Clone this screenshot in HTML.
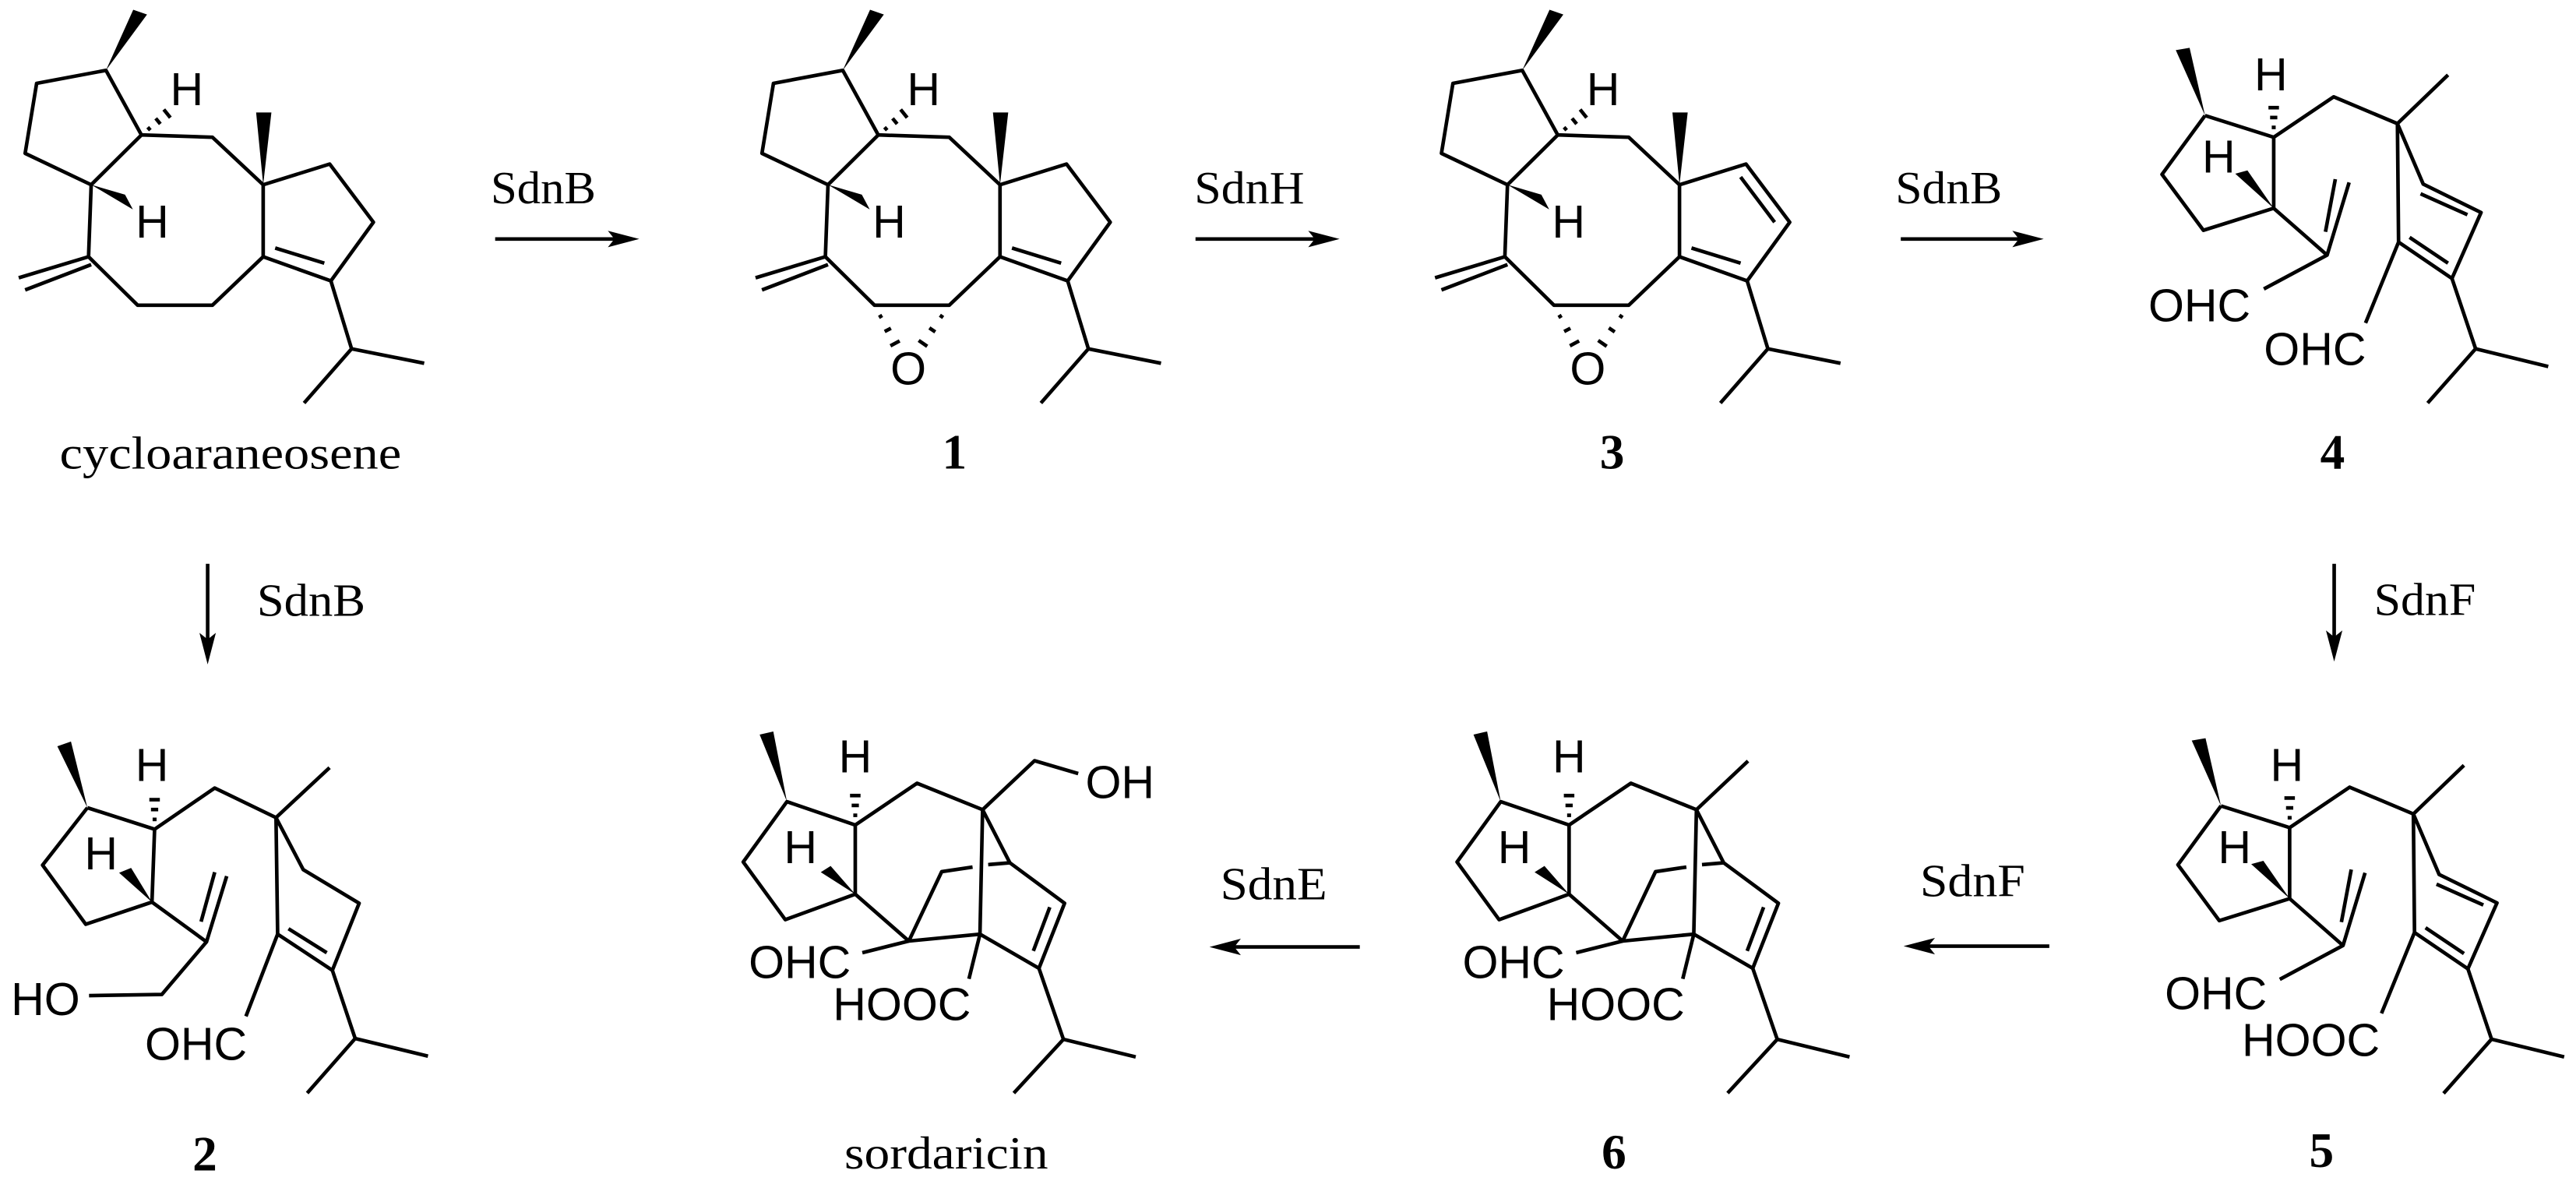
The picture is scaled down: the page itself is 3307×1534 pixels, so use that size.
<!DOCTYPE html>
<html><head><meta charset="utf-8"><style>
html,body{margin:0;padding:0;background:#fff;}
svg{display:block;}
.b{stroke:#000;stroke-width:2.2;fill:none;stroke-linejoin:round;}
.b polygon{fill:#000;stroke:none;}
.a{font-family:"Liberation Sans",sans-serif;font-size:28px;fill:#000;}
.s{font-family:"Liberation Serif",serif;font-size:28px;fill:#000;}
.n{font-family:"Liberation Serif",serif;font-size:30px;font-weight:bold;fill:#000;}
</style></head><body>
<svg width="3307" height="1534" viewBox="0 0 1568 727" preserveAspectRatio="none" xmlns="http://www.w3.org/2000/svg">
<rect width="1568" height="727" fill="#fff"/>

<g class="b" transform="translate(-448.5,0)">
 <polygon points="513,42.8 529.6,5.9 538,8.8"/>
 <polygon points="608.7,112.4 604.4,68.4 613.7,68.4"/>
 <polygon points="504,112.4 524.6,118.4 529.4,127.4"/>
 <polyline points="534.6,82.1 513,42.8 470.8,50.7 463.8,93.3 504,112.4 534.6,82.1 577.8,83.5 608.7,112.4 608.7,156.2 577.8,185.7 532.3,185.7 502.4,156.2 504,112.4"/>
 <polyline points="608.7,112.4 649.2,99.8 675.8,135.2 649.9,170.9 608.7,156.2"/>
 <line x1="616" y1="150.9" x2="645.9" y2="160.1"/>
 <line x1="502.4" y1="156.2" x2="459.9" y2="169"/>
 <line x1="504" y1="161" x2="463.8" y2="176.4"/>
 <polyline points="649.9,170.9 662.5,212.2 633.6,245.2"/>
 <line x1="662.5" y1="212.2" x2="706.7" y2="221"/>
 <line x1="538.4" y1="77.4" x2="540" y2="79.2"/>
 <line x1="543.3" y1="72" x2="546.1" y2="75.4"/>
 <line x1="548.2" y1="66.6" x2="552.2" y2="71.6"/>
</g>
<g transform="translate(-448.5,0)">
 <text class="a" x="562.2" y="64" text-anchor="middle">H</text>
 <text class="a" x="541.2" y="144.6" text-anchor="middle">H</text>
</g>

<g class="b">
 <polygon points="513,42.8 529.6,5.9 538,8.8"/>
 <polygon points="608.7,112.4 604.4,68.4 613.7,68.4"/>
 <polygon points="504,112.4 524.6,118.4 529.4,127.4"/>
 <polyline points="534.6,82.1 513,42.8 470.8,50.7 463.8,93.3 504,112.4 534.6,82.1 577.8,83.5 608.7,112.4 608.7,156.2 577.8,185.7 532.3,185.7 502.4,156.2 504,112.4"/>
 <polyline points="608.7,112.4 649.2,99.8 675.8,135.2 649.9,170.9 608.7,156.2"/>
 <line x1="616" y1="150.9" x2="645.9" y2="160.1"/>
 <line x1="502.4" y1="156.2" x2="459.9" y2="169"/>
 <line x1="504" y1="161" x2="463.8" y2="176.4"/>
 <polyline points="649.9,170.9 662.5,212.2 633.6,245.2"/>
 <line x1="662.5" y1="212.2" x2="706.7" y2="221"/>
 <line x1="538.4" y1="77.4" x2="540" y2="79.2"/>
 <line x1="543.3" y1="72" x2="546.1" y2="75.4"/>
 <line x1="548.2" y1="66.6" x2="552.2" y2="71.6"/>
 <line x1="535" y1="193.1" x2="537" y2="191.9"/>
 <line x1="538.5" y1="201.7" x2="542.3" y2="199.7"/>
 <line x1="542" y1="210.4" x2="547.6" y2="207.4"/>
 <line x1="572.1" y1="191.8" x2="574.1" y2="193.2"/>
 <line x1="565.7" y1="199.5" x2="569.3" y2="201.9"/>
 <line x1="559.2" y1="207.1" x2="564.4" y2="210.7"/>
</g>
<text class="a" x="562.2" y="64" text-anchor="middle">H</text>
<text class="a" x="541.2" y="144.6" text-anchor="middle">H</text>
<text class="a" x="552.9" y="234" text-anchor="middle">O</text>

<g class="b" transform="translate(413.6,0)">
 <polygon points="513,42.8 529.6,5.9 538,8.8"/>
 <polygon points="608.7,112.4 604.4,68.4 613.7,68.4"/>
 <polygon points="504,112.4 524.6,118.4 529.4,127.4"/>
 <polyline points="534.6,82.1 513,42.8 470.8,50.7 463.8,93.3 504,112.4 534.6,82.1 577.8,83.5 608.7,112.4 608.7,156.2 577.8,185.7 532.3,185.7 502.4,156.2 504,112.4"/>
 <polyline points="608.7,112.4 649.2,99.8 675.8,135.2 649.9,170.9 608.7,156.2"/>
 <line x1="616" y1="150.9" x2="645.9" y2="160.1"/>
 <line x1="645.9" y1="107.7" x2="666.6" y2="135.2"/>
 <line x1="502.4" y1="156.2" x2="459.9" y2="169"/>
 <line x1="504" y1="161" x2="463.8" y2="176.4"/>
 <polyline points="649.9,170.9 662.5,212.2 633.6,245.2"/>
 <line x1="662.5" y1="212.2" x2="706.7" y2="221"/>
 <line x1="538.4" y1="77.4" x2="540" y2="79.2"/>
 <line x1="543.3" y1="72" x2="546.1" y2="75.4"/>
 <line x1="548.2" y1="66.6" x2="552.2" y2="71.6"/>
 <line x1="535" y1="193.1" x2="537" y2="191.9"/>
 <line x1="538.5" y1="201.7" x2="542.3" y2="199.7"/>
 <line x1="542" y1="210.4" x2="547.6" y2="207.4"/>
 <line x1="572.1" y1="191.8" x2="574.1" y2="193.2"/>
 <line x1="565.7" y1="199.5" x2="569.3" y2="201.9"/>
 <line x1="559.2" y1="207.1" x2="564.4" y2="210.7"/>
</g>
<g transform="translate(413.6,0)">
 <text class="a" x="562.2" y="64" text-anchor="middle">H</text>
 <text class="a" x="541.2" y="144.6" text-anchor="middle">H</text>
 <text class="a" x="552.9" y="234" text-anchor="middle">O</text>
</g>

<g class="b">
 <polygon points="1342.2,70.3 1324.4,30.5 1332.8,29.1"/>
 <polygon points="1384,126.7 1360.6,105.7 1368,103.7"/>
 <polyline points="1342.2,70.3 1316,106.1 1341.2,140.1 1384,126.7 1384,83.5 1342.2,70.3"/>
 <polyline points="1384,83.5 1420.5,58.9 1459.3,75.2 1490.1,45.6"/>
 <polyline points="1384,126.7 1416.5,155.2 1429.9,111"/>
 <line x1="1421.5" y1="109" x2="1415.5" y2="141"/>
 <line x1="1416.5" y1="155.2" x2="1378" y2="175.8"/>
 <polyline points="1460,147.3 1459.3,75.2 1475,112 1510.2,129.3 1492.5,169.4 1460,147.3 1439.9,196.5"/>
 <line x1="1473.4" y1="117.9" x2="1501.9" y2="130.6"/>
 <line x1="1466.7" y1="144.4" x2="1490.1" y2="160.1"/>
 <polyline points="1492.5,169.4 1506.9,212.2 1477.7,245.2"/>
 <line x1="1506.9" y1="212.2" x2="1551.1" y2="223"/>
 <line x1="1382.8" y1="77.5" x2="1385.2" y2="77.5"/>
 <line x1="1381.8" y1="71.5" x2="1386.2" y2="71.5"/>
 <line x1="1380.8" y1="65.5" x2="1387.2" y2="65.5"/>
</g>
<text class="a" x="1382.3" y="55" text-anchor="middle">H</text>
<text class="a" x="1350.5" y="105" text-anchor="middle">H</text>
<text class="a" x="1307.7" y="195.5">OHC</text>
<text class="a" x="1378" y="222">OHC</text>

<g class="b" transform="translate(9.7,420)">
 <polygon points="1342.2,70.3 1324.4,30.5 1332.8,29.1"/>
 <polygon points="1384,126.7 1360.6,105.7 1368,103.7"/>
 <polyline points="1342.2,70.3 1316,106.1 1341.2,140.1 1384,126.7 1384,83.5 1342.2,70.3"/>
 <polyline points="1384,83.5 1420.5,58.9 1459.3,75.2 1490.1,45.6"/>
 <polyline points="1384,126.7 1416.5,155.2 1429.9,111"/>
 <line x1="1421.5" y1="109" x2="1415.5" y2="141"/>
 <line x1="1416.5" y1="155.2" x2="1378" y2="175.8"/>
 <polyline points="1460,147.3 1459.3,75.2 1475,112 1510.2,129.3 1492.5,169.4 1460,147.3 1439.9,196.5"/>
 <line x1="1473.4" y1="117.9" x2="1501.9" y2="130.6"/>
 <line x1="1466.7" y1="144.4" x2="1490.1" y2="160.1"/>
 <polyline points="1492.5,169.4 1506.9,212.2 1477.7,245.2"/>
 <line x1="1506.9" y1="212.2" x2="1551.1" y2="223"/>
 <line x1="1382.8" y1="77.5" x2="1385.2" y2="77.5"/>
 <line x1="1381.8" y1="71.5" x2="1386.2" y2="71.5"/>
 <line x1="1380.8" y1="65.5" x2="1387.2" y2="65.5"/>
</g>
<text class="a" x="1392" y="475" text-anchor="middle">H</text>
<text class="a" x="1360.2" y="525" text-anchor="middle">H</text>
<text class="a" x="1317.7" y="614">OHC</text>
<text class="a" x="1364.6" y="642.5">HOOC</text>

<g class="b">
 <polygon points="53.2,491.4 34.9,454 43.2,451.1"/>
 <polygon points="92.5,548.8 72.5,531 79.8,528"/>
 <polyline points="53.2,491.4 25.9,526.3 52.2,562.3 92.5,548.8 94.1,504.5 53.2,491.4"/>
 <polyline points="94.1,504.5 130.7,479.4 168,497.4 200.6,467"/>
 <polyline points="168,497.4 184.6,529.1 218.6,549.5 202.3,590.3 169,568.3 168,497.4"/>
 <line x1="175.6" y1="565" x2="198.9" y2="579.6"/>
 <line x1="169" y1="568.3" x2="149.7" y2="618.3"/>
 <polyline points="202.3,590.3 216.2,631.8 187,665"/>
 <line x1="216.2" y1="631.8" x2="260.5" y2="642.5"/>
 <polyline points="92.5,548.8 125.7,573 138,533"/>
 <line x1="130.7" y1="530.6" x2="122.4" y2="560.7"/>
 <polyline points="125.7,573 98.5,605 54.2,605.7"/>
 <line x1="92.9" y1="498.5" x2="95.3" y2="498.5"/>
 <line x1="91.9" y1="492.5" x2="96.3" y2="492.5"/>
 <line x1="90.9" y1="486.5" x2="97.3" y2="486.5"/>
</g>
<text class="a" x="92.5" y="475" text-anchor="middle">H</text>
<text class="a" x="61.5" y="529" text-anchor="middle">H</text>
<text class="a" x="6.7" y="617.6">HO</text>
<text class="a" x="88.2" y="644.8">OHC</text>

<g class="b">
 <polygon points="479,487.7 462.4,446.9 470.7,445"/>
 <polygon points="520.6,544 499.6,530.6 505.6,526.8"/>
 <polyline points="520.6,501.9 479,487.7 452.4,524.4 478,559.5 520.6,544 520.6,501.9 558.2,476.5 598.1,492.6 596.5,568.3 553.2,572.5 520.6,544"/>
 <polyline points="598.1,492.6 614.7,524.9 648,549.5 632.4,589.1 596.5,568.3"/>
 <line x1="639" y1="551.9" x2="629" y2="578.5"/>
 <line x1="553.2" y1="572.5" x2="524.9" y2="579.6"/>
 <polyline points="553.2,572.5 573.2,530.3 592,527.5"/>
 <line x1="601.5" y1="526" x2="614.7" y2="524.9"/>
 <line x1="596.5" y1="568.3" x2="589.8" y2="595.5"/>
 <polyline points="632.4,589.1 647.3,632.3 617.1,665"/>
 <line x1="647.3" y1="632.3" x2="691.3" y2="643"/>
 <polyline points="598.1,492.6 629.7,462.8 656.3,470.6"/>
 <line x1="519.4" y1="496" x2="521.8" y2="496"/>
 <line x1="518.4" y1="490" x2="522.8" y2="490"/>
 <line x1="517.4" y1="484" x2="523.8" y2="484"/>
</g>
<text class="a" x="520.6" y="470" text-anchor="middle">H</text>
<text class="a" x="487.3" y="525" text-anchor="middle">H</text>
<text class="a" x="455.7" y="595">OHC</text>
<text class="a" x="507" y="620.7">HOOC</text>
<text class="a" x="660.7" y="485.5">OH</text>

<g class="b" transform="translate(434.5,0)">
 <polygon points="479,487.7 462.4,446.9 470.7,445"/>
 <polygon points="520.6,544 499.6,530.6 505.6,526.8"/>
 <polyline points="520.6,501.9 479,487.7 452.4,524.4 478,559.5 520.6,544 520.6,501.9 558.2,476.5 598.1,492.6 596.5,568.3 553.2,572.5 520.6,544"/>
 <polyline points="598.1,492.6 614.7,524.9 648,549.5 632.4,589.1 596.5,568.3"/>
 <line x1="639" y1="551.9" x2="629" y2="578.5"/>
 <line x1="553.2" y1="572.5" x2="524.9" y2="579.6"/>
 <polyline points="553.2,572.5 573.2,530.3 592,527.5"/>
 <line x1="601.5" y1="526" x2="614.7" y2="524.9"/>
 <line x1="596.5" y1="568.3" x2="589.8" y2="595.5"/>
 <polyline points="632.4,589.1 647.3,632.3 617.1,665"/>
 <line x1="647.3" y1="632.3" x2="691.3" y2="643"/>
 <line x1="598.1" y1="492.6" x2="629.5" y2="463"/>
 <line x1="519.4" y1="496" x2="521.8" y2="496"/>
 <line x1="518.4" y1="490" x2="522.8" y2="490"/>
 <line x1="517.4" y1="484" x2="523.8" y2="484"/>
</g>
<g transform="translate(434.5,0)">
 <text class="a" x="520.6" y="470" text-anchor="middle">H</text>
 <text class="a" x="487.3" y="525" text-anchor="middle">H</text>
 <text class="a" x="455.7" y="595">OHC</text>
 <text class="a" x="507" y="620.7">HOOC</text>
</g>

<g class="b">
 <line x1="301.4" y1="145.4" x2="375" y2="145.4"/>
 <polygon points="389.1,145.4 370,140.4 374,145.4 370,150.4"/>
 <line x1="727.7" y1="145.4" x2="801" y2="145.4"/>
 <polygon points="815.4,145.4 796.3,140.4 800.3,145.4 796.3,150.4"/>
 <line x1="1157" y1="145.4" x2="1230" y2="145.4"/>
 <polygon points="1244,145.4 1224.9,140.4 1228.9,145.4 1224.9,150.4"/>
 <line x1="126.4" y1="343" x2="126.4" y2="390"/>
 <polygon points="126.4,404.2 121.4,385 126.4,389 131.4,385"/>
 <line x1="1420.8" y1="343" x2="1420.8" y2="388"/>
 <polygon points="1420.8,402.5 1415.8,383.5 1420.8,387.5 1425.8,383.5"/>
 <line x1="750" y1="576.1" x2="827.7" y2="576.1"/>
 <polygon points="736.2,576.1 755.3,571.1 751.3,576.1 755.3,581.1"/>
 <line x1="1172" y1="575.6" x2="1247.4" y2="575.6"/>
 <polygon points="1158.7,575.6 1177.8,570.6 1173.8,575.6 1177.8,580.6"/>
</g>
<text class="s" x="298.7" y="123.8" textLength="64" lengthAdjust="spacingAndGlyphs">SdnB</text>
<text class="s" x="727" y="123.8" textLength="67" lengthAdjust="spacingAndGlyphs">SdnH</text>
<text class="s" x="1153.7" y="123.8" textLength="65" lengthAdjust="spacingAndGlyphs">SdnB</text>
<text class="s" x="156.4" y="374.6" textLength="66" lengthAdjust="spacingAndGlyphs">SdnB</text>
<text class="s" x="1445" y="374.1" textLength="62" lengthAdjust="spacingAndGlyphs">SdnF</text>
<text class="s" x="742.8" y="547.2" textLength="65" lengthAdjust="spacingAndGlyphs">SdnE</text>
<text class="s" x="1168.7" y="545.3" textLength="64" lengthAdjust="spacingAndGlyphs">SdnF</text>

<text class="s" x="36.3" y="285" font-size="30" textLength="208" lengthAdjust="spacingAndGlyphs">cycloaraneosene</text>
<text class="n" x="581" y="285" text-anchor="middle">1</text>
<text class="n" x="981.3" y="285" text-anchor="middle">3</text>
<text class="n" x="1419.8" y="285" text-anchor="middle">4</text>
<text class="n" x="124.7" y="712" text-anchor="middle">2</text>
<text class="s" x="514" y="711" font-size="30" textLength="124" lengthAdjust="spacingAndGlyphs">sordaricin</text>
<text class="n" x="982.4" y="711" text-anchor="middle">6</text>
<text class="n" x="1413.1" y="710" text-anchor="middle">5</text>
</svg>
</body></html>
